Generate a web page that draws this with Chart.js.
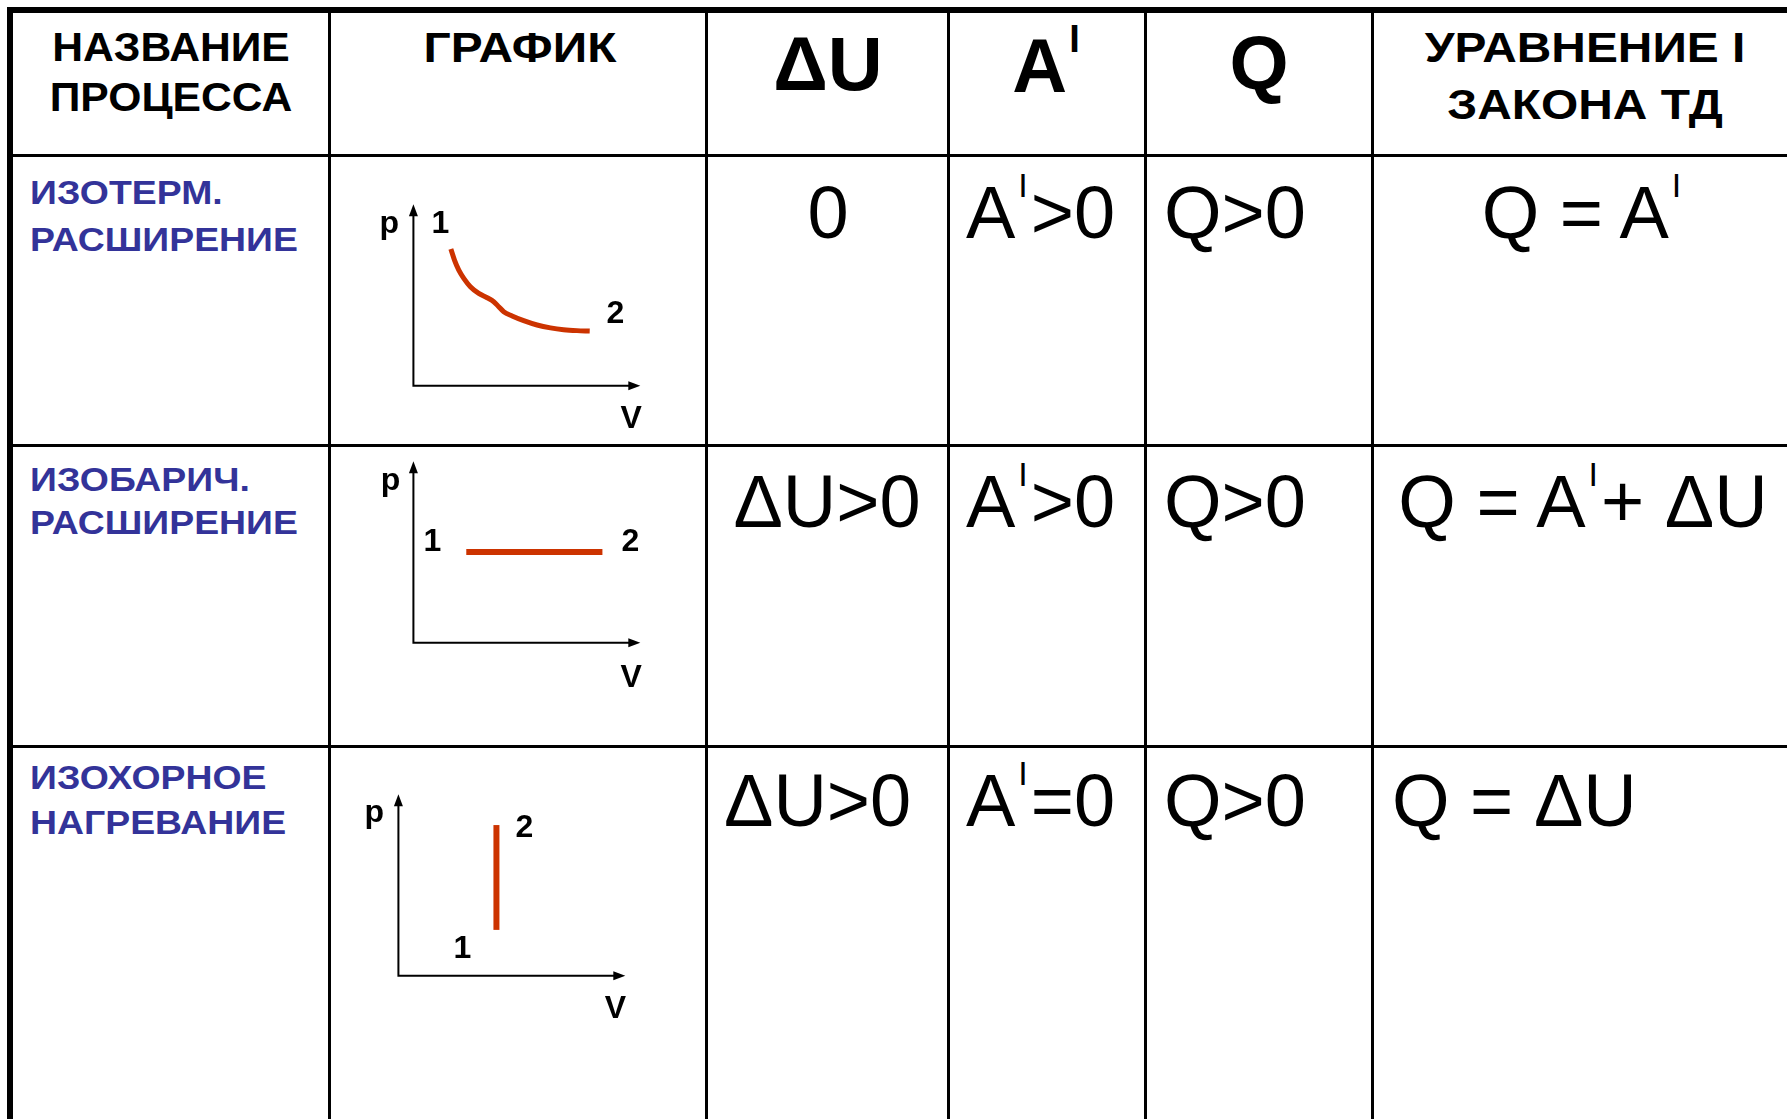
<!DOCTYPE html>
<html lang="ru">
<head>
<meta charset="utf-8">
<title>Изопроцессы и I закон ТД</title>
<script src="https://cdn.jsdelivr.net/npm/chart.js@4.4.1/dist/chart.umd.min.js"></script>
<style>
	html, body { margin: 0; padding: 0; background: #fff; overflow: hidden; }
	#sheet { position: relative; width: 1787px; height: 1119px; font-family: "Liberation Sans", Arial, sans-serif; }
	.ln { position: absolute; background: #000; }
	.t { position: absolute; white-space: nowrap; color: #000; }
	.hd { font-weight: bold; }
	.nm { font-weight: bold; color: #333399; }
	.t sup { vertical-align: top; position: relative; }
	canvas { position: absolute; }
</style>
</head>
<body>
<div id="sheet"></div>
<script>
// table text
const headers = [["НАЗВАНИЕ", "ПРОЦЕССА"], ["ГРАФИК"], ["ΔU"], ["A^I"], ["Q"], ["УРАВНЕНИЕ I", "ЗАКОНА ТД"]];
const processNames = [["ИЗОТЕРМ.", "РАСШИРЕНИЕ"], ["ИЗОБАРИЧ.", "РАСШИРЕНИЕ"], ["ИЗОХОРНОЕ", "НАГРЕВАНИЕ"]];
const dU = ["0", "ΔU>0", "ΔU>0"];
const work = ["A^I>0", "A^I>0", "A^I=0"];
const heat = ["Q>0", "Q>0", "Q>0"];
const firstLaw = ["Q = A^I", "Q = A^I+ ΔU", "Q = ΔU"];

// p-V graphs (V along x, p along y)
const isothermV = [1.65, 1.81, 2.00, 2.22, 2.51, 2.88, 3.25, 3.54, 3.76, 3.98, 4.35, 4.86, 5.45, 6.04, 6.62, 7.21, 7.77];
const isothermP = [7.53, 6.92, 6.37, 5.92, 5.46, 5.09, 4.85, 4.63, 4.36, 4.08, 3.85, 3.59, 3.35, 3.19, 3.09, 3.04, 3.02];
const isobarV = [2.33, 8.33];
const isobarP = [5.0, 5.0];
const isochorV = [4.32, 4.32];
const isochorP = [2.53, 8.30];
const axisNames = ["p", "V"];
const stateNames = ["1", "2"];

const RED = "#CC3300";
const sheet = document.getElementById("sheet");

function line(x, y, w, h) {
	const d = document.createElement("div");
	d.className = "ln";
	d.style.cssText = `left:${x}px;top:${y}px;width:${w}px;height:${h}px`;
	sheet.appendChild(d);
}

// superscript "I" after A
function fmt(s, supSize, supTop, gap) {
	return s.replace("^I", `<sup style="font-size:${supSize}px;line-height:${supSize}px;top:${supTop}px;margin:0 ${gap}px">I</sup>`);
}

// cy = centre of capitals, x = centre or left edge depending on align
function text(html, cls, x, cy, fs, align, stretch) {
	const d = document.createElement("div");
	d.className = "t " + cls;
	d.innerHTML = html;
	let tr = "";
	if (align === "center") tr += "translateX(-50%) ";
	if (stretch) tr += `scaleX(${stretch})`;
	d.style.cssText = `left:${x}px;top:${Math.round(cy - 0.49 * fs)}px;font-size:${fs}px;line-height:${fs}px;` +
		`transform:${tr};transform-origin:${align === "center" ? "0 50%" : "left center"}`;
	sheet.appendChild(d);
}

// grid
line(7, 7, 1780, 6);
line(7, 7, 6, 1112);
[328, 705, 947, 1144, 1371].forEach(x => line(x, 7, 3, 1112));
[154, 444, 745].forEach(y => line(7, y, 1780, 3));

// header (slide text is a little stretched sideways)
function headText(s, cx, cy, fs, sx) {
	const d = document.createElement("div");
	d.className = "t hd";
	d.innerHTML = s;
	d.style.cssText = `left:${cx}px;top:${Math.round(cy - 0.49 * fs)}px;font-size:${fs}px;line-height:${fs}px;` +
		`transform:translateX(-50%) scaleX(${sx})`;
	sheet.appendChild(d);
}
headText(headers[0][0], 171, 47, 41, 1.04);
headText(headers[0][1], 171, 97, 41, 1.04);
headText(headers[1][0], 520, 48, 42, 1.14);
headText(headers[2][0], 828, 63, 76, 1);
headText(fmt(headers[3][0], 38, -8, 2), 1047, 65, 76, 1);
headText(headers[4][0], 1259, 62, 76, 1);
headText(headers[5][0], 1585, 48, 42, 1.14);
headText(headers[5][1], 1585, 105, 42, 1.14);

// body rows
const rowMid = [212, 501, 800];
const nameMid = [[192, 239], [479, 522], [777, 822]];
const dUPos = [[828, "center"], [827, "center"], [724, "left"]];
const lawPos = [[1583, "center"], [1583, "center"], [1392, "left"]];

processNames.forEach((nm, i) => {
	text(nm[0], "nm", 30, nameMid[i][0], 34, "left", 1.1);
	text(nm[1], "nm", 30, nameMid[i][1], 34, "left", 1.1);
	text(dU[i], "", dUPos[i][0], rowMid[i], 74, dUPos[i][1]);
	text(fmt(work[i], 34, -8, 3), "", 966, rowMid[i], 74, "left");
	text(heat[i], "", 1164, rowMid[i], 74, "left");
	text(fmt(firstLaw[i], 34, -8, 3), "", lawPos[i][0], rowMid[i], 74, lawPos[i][1]);
});

// axes with arrows + labels, drawn through the chart scales
const pvAxes = {
	id: "pvAxes",
	beforeDatasetsDraw(chart) {
		const { ctx, scales: { x, y } } = chart;
		const x0 = x.getPixelForValue(0), y0 = y.getPixelForValue(0);
		const xt = x.getPixelForValue(10), yt = y.getPixelForValue(10);
		ctx.save();
		ctx.strokeStyle = "#000";
		ctx.fillStyle = "#000";
		ctx.lineWidth = 2;
		ctx.beginPath();
		ctx.moveTo(x0, yt + 8);
		ctx.lineTo(x0, y0);
		ctx.lineTo(xt - 8, y0);
		ctx.stroke();
		ctx.beginPath();
		ctx.moveTo(xt, y0);
		ctx.lineTo(xt - 12, y0 - 4.5);
		ctx.lineTo(xt - 12, y0 + 4.5);
		ctx.closePath();
		ctx.fill();
		ctx.beginPath();
		ctx.moveTo(x0, yt);
		ctx.lineTo(x0 - 4.5, yt + 12);
		ctx.lineTo(x0 + 4.5, yt + 12);
		ctx.closePath();
		ctx.fill();
		ctx.restore();
	},
	afterDatasetsDraw(chart) {
		const { ctx, scales: { x, y } } = chart;
		const labels = chart.options.plugins.pvAxes.labels || [];
		ctx.save();
		ctx.fillStyle = "#000";
		ctx.font = 'bold 32px "Liberation Sans", Arial, sans-serif';
		ctx.textAlign = "center";
		ctx.textBaseline = "alphabetic";
		labels.forEach(l => ctx.fillText(l.text, x.getPixelForValue(l.x), y.getPixelForValue(l.y)));
		ctx.restore();
	}
};

const X_MIN = -3.5, X_MAX = 11, Y_MIN = -3.2, Y_MAX = 11;
const CW = 329, CH = 258;

function pvChart(ox, oy, vs, ps, width, labels) {
	const canvas = document.createElement("canvas");
	canvas.width = CW;
	canvas.height = CH;
	canvas.style.left = Math.round(ox + X_MIN * CW / (X_MAX - X_MIN)) + "px";
	canvas.style.top = Math.round(oy - Y_MAX * CH / (Y_MAX - Y_MIN)) + "px";
	sheet.appendChild(canvas);
	return new Chart(canvas.getContext("2d"), {
		type: "scatter",
		data: {
			datasets: [{
				data: vs.map((v, i) => ({ x: v, y: ps[i] })),
				showLine: true,
				borderColor: RED,
				borderWidth: width,
				pointRadius: 0,
				tension: 0.4,
				cubicInterpolationMode: "monotone",
			}],
		},
		options: {
			responsive: false,
			animation: false,
			layout: { padding: 0 },
			scales: {
				x: { type: "linear", min: X_MIN, max: X_MAX, display: false },
				y: { type: "linear", min: Y_MIN, max: Y_MAX, display: false },
			},
			plugins: {
				legend: { display: false },
				tooltip: { enabled: false },
				pvAxes: { labels },
			},
		},
		plugins: [pvAxes],
	});
}

pvChart(413, 386, isothermV, isothermP, 5, [
	{ text: axisNames[0], x: -1.06, y: 8.41 },
	{ text: axisNames[1], x: 9.6, y: -2.31 },
	{ text: stateNames[0], x: 1.19, y: 8.41 },
	{ text: stateNames[1], x: 8.9, y: 3.46 },
]);
pvChart(413, 643, isobarV, isobarP, 6, [
	{ text: axisNames[0], x: -1.01, y: 8.41 },
	{ text: axisNames[1], x: 9.6, y: -2.42 },
	{ text: stateNames[0], x: 0.84, y: 5.05 },
	{ text: stateNames[1], x: 9.56, y: 5.05 },
]);
pvChart(398, 976, isochorV, isochorP, 6, [
	{ text: axisNames[0], x: -1.06, y: 8.46 },
	{ text: axisNames[1], x: 9.56, y: -2.31 },
	{ text: stateNames[0], x: 2.82, y: 0.99 },
	{ text: stateNames[1], x: 5.55, y: 7.64 },
]);
</script>
</body>
</html>
